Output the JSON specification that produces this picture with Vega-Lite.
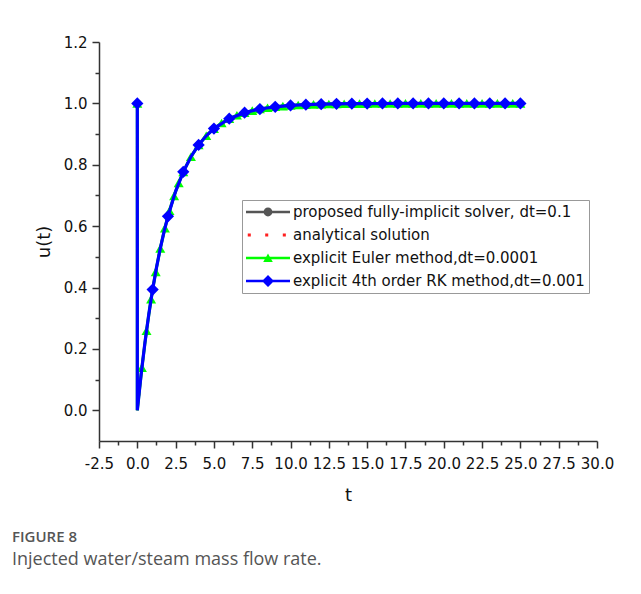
{
  "$schema": "https://vega.github.io/schema/vega-lite/v6.json",
  "width": 498,
  "height": 399,
  "autosize": {"type": "none"},
  "padding": {"left": 99, "top": 42, "right": 44, "bottom": 153},
  "background": "white",
  "config": {"view": {"stroke": null}, "font": "DejaVu Sans"},
  "title": {
    "text": "FIGURE 8",
    "subtitle": "Injected water/steam mass flow rate.",
    "orient": "bottom",
    "anchor": "start",
    "frame": "group",
    "dx": -87,
    "offset": 26,
    "font": "Open Sans",
    "fontSize": 15,
    "fontWeight": 600,
    "color": "#555555",
    "subtitleFont": "Open Sans",
    "subtitleFontSize": 18,
    "subtitleColor": "#555555",
    "subtitlePadding": 6
  },
  "data": {
    "values": [
      {"series": "proposed fully-implicit solver, dt=0.1", "t": 0, "u": 1, "marker": 1},
      {"series": "proposed fully-implicit solver, dt=0.1", "t": 0, "u": 0, "marker": 0},
      {"series": "proposed fully-implicit solver, dt=0.1", "t": 0.25, "u": 0.1175, "marker": 0},
      {"series": "proposed fully-implicit solver, dt=0.1", "t": 0.5, "u": 0.2212, "marker": 0},
      {"series": "proposed fully-implicit solver, dt=0.1", "t": 0.75, "u": 0.3127, "marker": 0},
      {"series": "proposed fully-implicit solver, dt=0.1", "t": 1, "u": 0.3935, "marker": 1},
      {"series": "proposed fully-implicit solver, dt=0.1", "t": 1.25, "u": 0.4647, "marker": 0},
      {"series": "proposed fully-implicit solver, dt=0.1", "t": 1.5, "u": 0.5276, "marker": 0},
      {"series": "proposed fully-implicit solver, dt=0.1", "t": 1.75, "u": 0.5831, "marker": 0},
      {"series": "proposed fully-implicit solver, dt=0.1", "t": 2, "u": 0.6321, "marker": 1},
      {"series": "proposed fully-implicit solver, dt=0.1", "t": 2.5, "u": 0.7135, "marker": 0},
      {"series": "proposed fully-implicit solver, dt=0.1", "t": 3, "u": 0.7769, "marker": 1},
      {"series": "proposed fully-implicit solver, dt=0.1", "t": 3.5, "u": 0.8262, "marker": 0},
      {"series": "proposed fully-implicit solver, dt=0.1", "t": 4, "u": 0.8647, "marker": 1},
      {"series": "proposed fully-implicit solver, dt=0.1", "t": 4.5, "u": 0.8946, "marker": 0},
      {"series": "proposed fully-implicit solver, dt=0.1", "t": 5, "u": 0.9179, "marker": 1},
      {"series": "proposed fully-implicit solver, dt=0.1", "t": 6, "u": 0.9502, "marker": 1},
      {"series": "proposed fully-implicit solver, dt=0.1", "t": 7, "u": 0.9698, "marker": 1},
      {"series": "proposed fully-implicit solver, dt=0.1", "t": 8, "u": 0.9817, "marker": 1},
      {"series": "proposed fully-implicit solver, dt=0.1", "t": 9, "u": 0.9889, "marker": 1},
      {"series": "proposed fully-implicit solver, dt=0.1", "t": 10, "u": 0.9933, "marker": 1},
      {"series": "proposed fully-implicit solver, dt=0.1", "t": 11, "u": 0.9959, "marker": 1},
      {"series": "proposed fully-implicit solver, dt=0.1", "t": 12, "u": 0.9975, "marker": 1},
      {"series": "proposed fully-implicit solver, dt=0.1", "t": 13, "u": 0.9985, "marker": 1},
      {"series": "proposed fully-implicit solver, dt=0.1", "t": 14, "u": 0.9991, "marker": 1},
      {"series": "proposed fully-implicit solver, dt=0.1", "t": 15, "u": 0.9994, "marker": 1},
      {"series": "proposed fully-implicit solver, dt=0.1", "t": 16, "u": 0.9997, "marker": 1},
      {"series": "proposed fully-implicit solver, dt=0.1", "t": 17, "u": 0.9998, "marker": 1},
      {"series": "proposed fully-implicit solver, dt=0.1", "t": 18, "u": 0.9999, "marker": 1},
      {"series": "proposed fully-implicit solver, dt=0.1", "t": 19, "u": 0.9999, "marker": 1},
      {"series": "proposed fully-implicit solver, dt=0.1", "t": 20, "u": 1, "marker": 1},
      {"series": "proposed fully-implicit solver, dt=0.1", "t": 21, "u": 1, "marker": 1},
      {"series": "proposed fully-implicit solver, dt=0.1", "t": 22, "u": 1, "marker": 1},
      {"series": "proposed fully-implicit solver, dt=0.1", "t": 23, "u": 1, "marker": 1},
      {"series": "proposed fully-implicit solver, dt=0.1", "t": 24, "u": 1, "marker": 1},
      {"series": "proposed fully-implicit solver, dt=0.1", "t": 25, "u": 1, "marker": 1},

      {"series": "analytical solution", "t": 0, "u": 1, "marker": 0},
      {"series": "analytical solution", "t": 0, "u": 0, "marker": 0},
      {"series": "analytical solution", "t": 0.25, "u": 0.1175, "marker": 0},
      {"series": "analytical solution", "t": 0.5, "u": 0.2212, "marker": 0},
      {"series": "analytical solution", "t": 0.75, "u": 0.3127, "marker": 0},
      {"series": "analytical solution", "t": 1, "u": 0.3935, "marker": 0},
      {"series": "analytical solution", "t": 1.25, "u": 0.4647, "marker": 0},
      {"series": "analytical solution", "t": 1.5, "u": 0.5276, "marker": 0},
      {"series": "analytical solution", "t": 1.75, "u": 0.5831, "marker": 0},
      {"series": "analytical solution", "t": 2, "u": 0.6321, "marker": 0},
      {"series": "analytical solution", "t": 2.5, "u": 0.7135, "marker": 0},
      {"series": "analytical solution", "t": 3, "u": 0.7769, "marker": 0},
      {"series": "analytical solution", "t": 3.5, "u": 0.8262, "marker": 0},
      {"series": "analytical solution", "t": 4, "u": 0.8647, "marker": 0},
      {"series": "analytical solution", "t": 4.5, "u": 0.8946, "marker": 0},
      {"series": "analytical solution", "t": 5, "u": 0.9179, "marker": 0},
      {"series": "analytical solution", "t": 6, "u": 0.9502, "marker": 0},
      {"series": "analytical solution", "t": 7, "u": 0.9698, "marker": 0},
      {"series": "analytical solution", "t": 8, "u": 0.9817, "marker": 0},
      {"series": "analytical solution", "t": 9, "u": 0.9889, "marker": 0},
      {"series": "analytical solution", "t": 10, "u": 0.9933, "marker": 0},
      {"series": "analytical solution", "t": 12, "u": 0.9975, "marker": 0},
      {"series": "analytical solution", "t": 14, "u": 0.9991, "marker": 0},
      {"series": "analytical solution", "t": 16, "u": 0.9997, "marker": 0},
      {"series": "analytical solution", "t": 18, "u": 0.9999, "marker": 0},
      {"series": "analytical solution", "t": 20, "u": 1, "marker": 0},
      {"series": "analytical solution", "t": 25, "u": 1, "marker": 0},

      {"series": "explicit Euler method,dt=0.0001", "t": 0, "u": 1, "marker": 1},
      {"series": "explicit Euler method,dt=0.0001", "t": 0, "u": 0, "marker": 0},
      {"series": "explicit Euler method,dt=0.0001", "t": 0.3, "u": 0.1393, "marker": 1},
      {"series": "explicit Euler method,dt=0.0001", "t": 0.6, "u": 0.2592, "marker": 1},
      {"series": "explicit Euler method,dt=0.0001", "t": 0.9, "u": 0.3624, "marker": 1},
      {"series": "explicit Euler method,dt=0.0001", "t": 1.2, "u": 0.4512, "marker": 1},
      {"series": "explicit Euler method,dt=0.0001", "t": 1.5, "u": 0.5276, "marker": 1},
      {"series": "explicit Euler method,dt=0.0001", "t": 1.8, "u": 0.5934, "marker": 1},
      {"series": "explicit Euler method,dt=0.0001", "t": 2.1, "u": 0.6501, "marker": 1},
      {"series": "explicit Euler method,dt=0.0001", "t": 2.4, "u": 0.6988, "marker": 1},
      {"series": "explicit Euler method,dt=0.0001", "t": 2.7, "u": 0.7408, "marker": 1},
      {"series": "explicit Euler method,dt=0.0001", "t": 3.0, "u": 0.7769, "marker": 1},
      {"series": "explicit Euler method,dt=0.0001", "t": 3.5, "u": 0.8262, "marker": 1},
      {"series": "explicit Euler method,dt=0.0001", "t": 4.0, "u": 0.8647, "marker": 1},
      {"series": "explicit Euler method,dt=0.0001", "t": 4.5, "u": 0.8946, "marker": 1},
      {"series": "explicit Euler method,dt=0.0001", "t": 5.0, "u": 0.9179, "marker": 1},
      {"series": "explicit Euler method,dt=0.0001", "t": 5.5, "u": 0.9361, "marker": 1},
      {"series": "explicit Euler method,dt=0.0001", "t": 6.0, "u": 0.9502, "marker": 1},
      {"series": "explicit Euler method,dt=0.0001", "t": 6.5, "u": 0.9612, "marker": 1},
      {"series": "explicit Euler method,dt=0.0001", "t": 7.0, "u": 0.9698, "marker": 1},
      {"series": "explicit Euler method,dt=0.0001", "t": 7.5, "u": 0.9765, "marker": 1},
      {"series": "explicit Euler method,dt=0.0001", "t": 8.0, "u": 0.9817, "marker": 1},
      {"series": "explicit Euler method,dt=0.0001", "t": 8.5, "u": 0.9857, "marker": 1},
      {"series": "explicit Euler method,dt=0.0001", "t": 9.0, "u": 0.9889, "marker": 1},
      {"series": "explicit Euler method,dt=0.0001", "t": 9.5, "u": 0.9913, "marker": 1},
      {"series": "explicit Euler method,dt=0.0001", "t": 10.0, "u": 0.9933, "marker": 1},
      {"series": "explicit Euler method,dt=0.0001", "t": 10.5, "u": 0.9948, "marker": 1},
      {"series": "explicit Euler method,dt=0.0001", "t": 11.0, "u": 0.9959, "marker": 1},
      {"series": "explicit Euler method,dt=0.0001", "t": 11.5, "u": 0.9968, "marker": 1},
      {"series": "explicit Euler method,dt=0.0001", "t": 12.0, "u": 0.9975, "marker": 1},
      {"series": "explicit Euler method,dt=0.0001", "t": 12.5, "u": 0.9981, "marker": 1},
      {"series": "explicit Euler method,dt=0.0001", "t": 13.0, "u": 0.9985, "marker": 1},
      {"series": "explicit Euler method,dt=0.0001", "t": 13.5, "u": 0.9988, "marker": 1},
      {"series": "explicit Euler method,dt=0.0001", "t": 14.0, "u": 0.9991, "marker": 1},
      {"series": "explicit Euler method,dt=0.0001", "t": 14.5, "u": 0.9993, "marker": 1},
      {"series": "explicit Euler method,dt=0.0001", "t": 15.0, "u": 0.9994, "marker": 1},
      {"series": "explicit Euler method,dt=0.0001", "t": 15.5, "u": 0.9996, "marker": 1},
      {"series": "explicit Euler method,dt=0.0001", "t": 16.0, "u": 0.9997, "marker": 1},
      {"series": "explicit Euler method,dt=0.0001", "t": 16.5, "u": 0.9997, "marker": 1},
      {"series": "explicit Euler method,dt=0.0001", "t": 17.0, "u": 0.9998, "marker": 1},
      {"series": "explicit Euler method,dt=0.0001", "t": 17.5, "u": 0.9998, "marker": 1},
      {"series": "explicit Euler method,dt=0.0001", "t": 18.0, "u": 0.9999, "marker": 1},
      {"series": "explicit Euler method,dt=0.0001", "t": 18.5, "u": 0.9999, "marker": 1},
      {"series": "explicit Euler method,dt=0.0001", "t": 19.0, "u": 0.9999, "marker": 1},
      {"series": "explicit Euler method,dt=0.0001", "t": 19.5, "u": 0.9999, "marker": 1},
      {"series": "explicit Euler method,dt=0.0001", "t": 20.0, "u": 1, "marker": 1},
      {"series": "explicit Euler method,dt=0.0001", "t": 20.5, "u": 1, "marker": 1},
      {"series": "explicit Euler method,dt=0.0001", "t": 21.0, "u": 1, "marker": 1},
      {"series": "explicit Euler method,dt=0.0001", "t": 21.5, "u": 1, "marker": 1},
      {"series": "explicit Euler method,dt=0.0001", "t": 22.0, "u": 1, "marker": 1},
      {"series": "explicit Euler method,dt=0.0001", "t": 22.5, "u": 1, "marker": 1},
      {"series": "explicit Euler method,dt=0.0001", "t": 23.0, "u": 1, "marker": 1},
      {"series": "explicit Euler method,dt=0.0001", "t": 23.5, "u": 1, "marker": 1},
      {"series": "explicit Euler method,dt=0.0001", "t": 24.0, "u": 1, "marker": 1},
      {"series": "explicit Euler method,dt=0.0001", "t": 24.5, "u": 1, "marker": 1},
      {"series": "explicit Euler method,dt=0.0001", "t": 25.0, "u": 1, "marker": 1},

      {"series": "explicit 4th order RK method,dt=0.001", "t": 0, "u": 1, "marker": 1},
      {"series": "explicit 4th order RK method,dt=0.001", "t": 0, "u": 0, "marker": 0},
      {"series": "explicit 4th order RK method,dt=0.001", "t": 0.25, "u": 0.1175, "marker": 0},
      {"series": "explicit 4th order RK method,dt=0.001", "t": 0.5, "u": 0.2212, "marker": 0},
      {"series": "explicit 4th order RK method,dt=0.001", "t": 0.75, "u": 0.3127, "marker": 0},
      {"series": "explicit 4th order RK method,dt=0.001", "t": 1, "u": 0.3935, "marker": 1},
      {"series": "explicit 4th order RK method,dt=0.001", "t": 1.25, "u": 0.4647, "marker": 0},
      {"series": "explicit 4th order RK method,dt=0.001", "t": 1.5, "u": 0.5276, "marker": 0},
      {"series": "explicit 4th order RK method,dt=0.001", "t": 1.75, "u": 0.5831, "marker": 0},
      {"series": "explicit 4th order RK method,dt=0.001", "t": 2, "u": 0.6321, "marker": 1},
      {"series": "explicit 4th order RK method,dt=0.001", "t": 2.5, "u": 0.7135, "marker": 0},
      {"series": "explicit 4th order RK method,dt=0.001", "t": 3, "u": 0.7769, "marker": 1},
      {"series": "explicit 4th order RK method,dt=0.001", "t": 3.5, "u": 0.8262, "marker": 0},
      {"series": "explicit 4th order RK method,dt=0.001", "t": 4, "u": 0.8647, "marker": 1},
      {"series": "explicit 4th order RK method,dt=0.001", "t": 4.5, "u": 0.8946, "marker": 0},
      {"series": "explicit 4th order RK method,dt=0.001", "t": 5, "u": 0.9179, "marker": 1},
      {"series": "explicit 4th order RK method,dt=0.001", "t": 6, "u": 0.9502, "marker": 1},
      {"series": "explicit 4th order RK method,dt=0.001", "t": 7, "u": 0.9698, "marker": 1},
      {"series": "explicit 4th order RK method,dt=0.001", "t": 8, "u": 0.9817, "marker": 1},
      {"series": "explicit 4th order RK method,dt=0.001", "t": 9, "u": 0.9889, "marker": 1},
      {"series": "explicit 4th order RK method,dt=0.001", "t": 10, "u": 0.9933, "marker": 1},
      {"series": "explicit 4th order RK method,dt=0.001", "t": 11, "u": 0.9959, "marker": 1},
      {"series": "explicit 4th order RK method,dt=0.001", "t": 12, "u": 0.9975, "marker": 1},
      {"series": "explicit 4th order RK method,dt=0.001", "t": 13, "u": 0.9985, "marker": 1},
      {"series": "explicit 4th order RK method,dt=0.001", "t": 14, "u": 0.9991, "marker": 1},
      {"series": "explicit 4th order RK method,dt=0.001", "t": 15, "u": 0.9994, "marker": 1},
      {"series": "explicit 4th order RK method,dt=0.001", "t": 16, "u": 0.9997, "marker": 1},
      {"series": "explicit 4th order RK method,dt=0.001", "t": 17, "u": 0.9998, "marker": 1},
      {"series": "explicit 4th order RK method,dt=0.001", "t": 18, "u": 0.9999, "marker": 1},
      {"series": "explicit 4th order RK method,dt=0.001", "t": 19, "u": 0.9999, "marker": 1},
      {"series": "explicit 4th order RK method,dt=0.001", "t": 20, "u": 1, "marker": 1},
      {"series": "explicit 4th order RK method,dt=0.001", "t": 21, "u": 1, "marker": 1},
      {"series": "explicit 4th order RK method,dt=0.001", "t": 22, "u": 1, "marker": 1},
      {"series": "explicit 4th order RK method,dt=0.001", "t": 23, "u": 1, "marker": 1},
      {"series": "explicit 4th order RK method,dt=0.001", "t": 24, "u": 1, "marker": 1},
      {"series": "explicit 4th order RK method,dt=0.001", "t": 25, "u": 1, "marker": 1}
    ]
  },
  "encoding": {
    "x": {
      "field": "t",
      "type": "quantitative",
      "scale": {"domain": [-2.5, 30], "nice": false, "zero": false},
      "axis": {
        "title": "t",
        "values": [-2.5, -1.25, 0, 1.25, 2.5, 3.75, 5, 6.25, 7.5, 8.75, 10, 11.25, 12.5, 13.75, 15, 16.25, 17.5, 18.75, 20, 21.25, 22.5, 23.75, 25, 26.25, 27.5, 28.75, 30],
        "labelExpr": "datum.value % 2.5 === 0 ? replace(format(datum.value, '.1f'), '\u2212', '-') : ''",
        "tickSize": {"condition": {"test": "datum.value % 2.5 !== 0", "value": 4}, "value": 7},
        "grid": false,
        "labelOverlap": false,
        "labelFlush": false,
        "domainColor": "#333333",
        "domainWidth": 1.5,
        "tickColor": "#333333",
        "tickWidth": 1.5,
        "labelFont": "DejaVu Sans",
        "labelFontSize": 15,
        "labelColor": "#111111",
        "labelPadding": 8,
        "titleFont": "DejaVu Sans",
        "titleFontSize": 18,
        "titleFontWeight": "normal",
        "titleColor": "#111111",
        "titlePadding": 15
      }
    },
    "y": {
      "field": "u",
      "type": "quantitative",
      "scale": {"domain": [-0.1, 1.2], "nice": false, "zero": false},
      "axis": {
        "title": "u(t)",
        "values": [0, 0.1, 0.2, 0.3, 0.4, 0.5, 0.6, 0.7, 0.8, 0.9, 1.0, 1.1, 1.2],
        "labelExpr": "round(datum.value * 10) % 2 === 0 ? format(datum.value, '.1f') : ''",
        "tickSize": {"condition": {"test": "round(datum.value * 10) % 2 !== 0", "value": 4}, "value": 7},
        "grid": false,
        "labelOverlap": false,
        "labelFlush": false,
        "domainColor": "#333333",
        "domainWidth": 1.5,
        "tickColor": "#333333",
        "tickWidth": 1.5,
        "labelFont": "DejaVu Sans",
        "labelFontSize": 15,
        "labelColor": "#111111",
        "labelPadding": 5,
        "titleFont": "DejaVu Sans",
        "titleFontSize": 18,
        "titleFontWeight": "normal",
        "titleColor": "#111111",
        "titlePadding": 10
      }
    },
    "color": {
      "field": "series",
      "type": "nominal",
      "scale": {
        "domain": ["proposed fully-implicit solver, dt=0.1", "analytical solution", "explicit Euler method,dt=0.0001", "explicit 4th order RK method,dt=0.001"],
        "range": ["#555555", "#ff2020", "#00ff00", "#0000ff"]
      },
      "legend": {
        "title": null,
        "orient": "none",
        "legendX": 143,
        "legendY": 158,
        "strokeColor": "#999999",
        "fillColor": "white",
        "padding": 4,
        "rowPadding": 7,
        "labelFont": "DejaVu Sans",
        "labelFontSize": 15,
        "labelColor": "#111111",
        "labelOffset": 17,
        "labelLimit": 400,
        "symbolSize": 256,
        "symbolStrokeWidth": 0,
        "symbolOpacity": 1,
        "symbolOffset": 14
      }
    }
  },
  "layer": [
    {
      "transform": [{"filter": "datum.series === 'proposed fully-implicit solver, dt=0.1'"}],
      "mark": {"type": "line", "strokeWidth": 2.5},
      "encoding": {"order": {"value": null}}
    },
    {
      "transform": [{"filter": "datum.series === 'proposed fully-implicit solver, dt=0.1' && datum.marker === 1"}],
      "mark": {"type": "point", "shape": "circle", "filled": true, "size": 50, "opacity": 1}
    },
    {
      "transform": [{"filter": "datum.series === 'analytical solution'"}],
      "mark": {"type": "line", "strokeWidth": 2.5, "strokeDash": [2, 5]},
      "encoding": {"order": {"value": null}}
    },
    {
      "transform": [{"filter": "datum.series === 'explicit Euler method,dt=0.0001'"}],
      "mark": {"type": "line", "strokeWidth": 3},
      "encoding": {"order": {"value": null}}
    },
    {
      "transform": [{"filter": "datum.series === 'explicit Euler method,dt=0.0001' && datum.marker === 1"}],
      "mark": {"type": "point", "shape": "triangle-up", "filled": true, "size": 100, "opacity": 1}
    },
    {
      "transform": [{"filter": "datum.series === 'explicit 4th order RK method,dt=0.001'"}],
      "mark": {"type": "line", "strokeWidth": 3.2},
      "encoding": {"order": {"value": null}}
    },
    {
      "transform": [{"filter": "datum.series === 'explicit 4th order RK method,dt=0.001' && datum.marker === 1"}],
      "mark": {"type": "point", "shape": "diamond", "filled": true, "size": 150, "opacity": 1}
    },
    {
      "transform": [{"filter": "datum.t === 25"}],
      "mark": {"type": "point", "filled": true, "size": 0, "opacity": 1, "strokeWidth": 0},
      "encoding": {
        "shape": {
          "field": "series",
          "type": "nominal",
          "scale": {
            "domain": ["proposed fully-implicit solver, dt=0.1", "analytical solution", "explicit Euler method,dt=0.0001", "explicit 4th order RK method,dt=0.001"],
            "range": [
              "M-2.75,-0.16H2.75V0.16H-2.75ZM-0.55,0A0.55,0.55,0,1,1,0.55,0A0.55,0.55,0,1,1,-0.55,0Z",
              "M-2.53,-0.19h0.38v0.38h-0.38ZM-0.35,-0.19h0.38v0.38h-0.38ZM1.85,-0.19h0.38v0.38h-0.38Z",
              "M-2.75,-0.16H2.75V0.16H-2.75ZM-0.6,0.5L0,-0.55L0.6,0.5Z",
              "M-2.75,-0.16H2.75V0.16H-2.75ZM-0.75,0L0,-0.75L0.75,0L0,0.75Z"
            ]
          }
        }
      }
    }
  ]
}
